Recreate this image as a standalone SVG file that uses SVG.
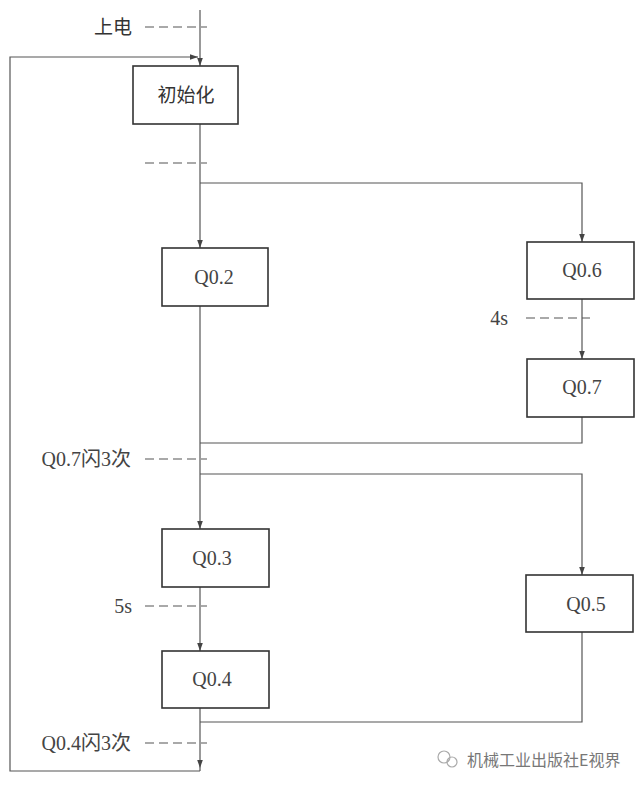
<svg xmlns="http://www.w3.org/2000/svg" width="640" height="787" viewBox="0 0 640 787">
<defs>
<marker id="arr" viewBox="0 0 10 10" refX="10" refY="5" markerWidth="8" markerHeight="8" markerUnits="userSpaceOnUse" orient="auto">
<path d="M0,1.5 L10,5 L0,8.5 Z" fill="#444"/>
</marker>
<style>
.box{fill:#fff;stroke:#333;stroke-width:1.6}
.ln{fill:none;stroke:#555;stroke-width:1.2}
.dash{fill:none;stroke:#555;stroke-width:1.2;stroke-dasharray:9,5}
.lbl{font-family:"Liberation Serif","Noto Sans CJK SC",serif;font-size:20px;fill:#444}
.cn{font-family:"Noto Sans CJK SC",sans-serif;font-size:19px;fill:#333}
.wm{font-family:"Noto Sans CJK SC",sans-serif;font-size:16px;fill:#777}
</style>
</defs>
<rect width="640" height="787" fill="#fff"/>
<g id="connectors">
<path class="ln" d="M200,10 V66" marker-end="url(#arr)"/>
<path class="ln" d="M200,771 H10 V57 H198" marker-end="url(#arr)"/>
<path class="ln" d="M200,124 V248" marker-end="url(#arr)"/>
<path class="ln" d="M200,183 H582 V242" marker-end="url(#arr)"/>
<path class="ln" d="M582,299 V359" marker-end="url(#arr)"/>
<path class="ln" d="M582,417 V443 H200"/>
<path class="ln" d="M200,306 V529" marker-end="url(#arr)"/>
<path class="ln" d="M200,474 H582 V575" marker-end="url(#arr)"/>
<path class="ln" d="M200,587 V651" marker-end="url(#arr)"/>
<path class="ln" d="M582,632 V722 H200"/>
<path class="ln" d="M200,708 V768" marker-end="url(#arr)"/>
<path class="ln" d="M200,768 V771"/>
<path class="dash" d="M145,27 H207"/>
<path class="dash" d="M145,163 H207"/>
<path class="dash" d="M526,318 H590"/>
<path class="dash" d="M145,459 H207"/>
<path class="dash" d="M145,606 H207"/>
<path class="dash" d="M145,743 H207"/>
</g>
<g id="labels">
<text class="cn" x="132" y="34" text-anchor="end">上电</text>
<text class="lbl" x="508" y="325" text-anchor="end">4s</text>
<text class="lbl" x="131" y="466" text-anchor="end">Q0.7闪3次</text>
<text class="lbl" x="132" y="613" text-anchor="end">5s</text>
<text class="lbl" x="131" y="750" text-anchor="end">Q0.4闪3次</text>
</g>
<g id="init"><rect class="box" x="133" y="66" width="105" height="58"/><text class="cn" x="186" y="102" text-anchor="middle">初始化</text></g>
<g id="q02"><rect class="box" x="162" y="248" width="106" height="58"/><text class="lbl" x="214" y="284" text-anchor="middle">Q0.2</text></g>
<g id="q06"><rect class="box" x="527" y="242" width="107" height="57"/><text class="lbl" x="582" y="277" text-anchor="middle">Q0.6</text></g>
<g id="q07"><rect class="box" x="527" y="359" width="107" height="58"/><text class="lbl" x="582" y="394" text-anchor="middle">Q0.7</text></g>
<g id="q03"><rect class="box" x="162" y="529" width="107" height="58"/><text class="lbl" x="212" y="565" text-anchor="middle">Q0.3</text></g>
<g id="q04"><rect class="box" x="162" y="651" width="107" height="57"/><text class="lbl" x="212" y="686" text-anchor="middle">Q0.4</text></g>
<g id="q05"><rect class="box" x="526" y="575" width="107" height="57"/><text class="lbl" x="586" y="611" text-anchor="middle">Q0.5</text></g>
<g id="watermark">
<circle cx="444" cy="757" r="6" fill="none" stroke="#aaa" stroke-width="1.2"/>
<circle cx="452" cy="762" r="5" fill="none" stroke="#aaa" stroke-width="1.2"/>
<text class="wm" x="467" y="766">机械工业出版社E视界</text>
</g>
</svg>
